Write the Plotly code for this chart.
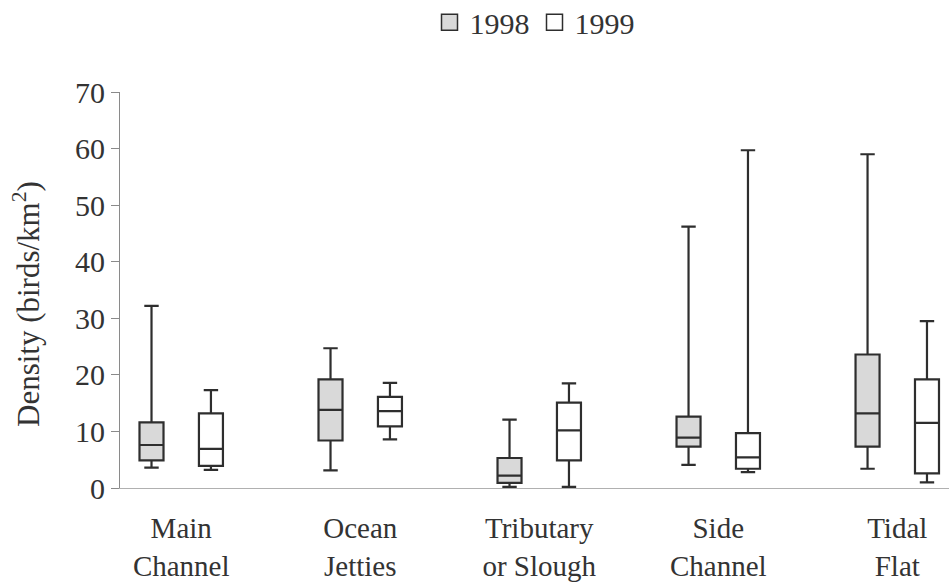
import plotly.graph_objects as go

categories = ["Main<br>Channel", "Ocean<br>Jetties", "Tributary<br>or Slough", "Side<br>Channel", "Tidal<br>Flat"]

# 1998 box statistics (birds/km^2)
lo_1998 = [3.6, 3.1, 0.2, 4.1, 3.4]
q1_1998 = [4.9, 8.4, 0.9, 7.3, 7.3]
med_1998 = [7.6, 13.8, 2.2, 8.9, 13.2]
q3_1998 = [11.6, 19.2, 5.3, 12.6, 23.6]
hi_1998 = [32.2, 24.7, 12.1, 46.2, 59.0]

# 1999 box statistics (birds/km^2)
lo_1999 = [3.2, 8.6, 0.2, 2.8, 1.0]
q1_1999 = [3.9, 10.9, 4.9, 3.4, 2.6]
med_1999 = [6.9, 13.6, 10.2, 5.4, 11.5]
q3_1999 = [13.2, 16.1, 15.1, 9.7, 19.2]
hi_1999 = [17.3, 18.6, 18.5, 59.7, 29.5]

y_ticks = [0, 10, 20, 30, 40, 50, 60, 70]

SERIF = "Liberation Serif"
LINE = "#2e2e2e"
TXT = "#333333"
FILL98 = "#d9d9d9"

fig = go.Figure()
fig.add_trace(go.Box(
    name="1998", x=categories,
    lowerfence=lo_1998, q1=q1_1998, median=med_1998, q3=q3_1998, upperfence=hi_1998,
    fillcolor=FILL98, line=dict(color=LINE, width=2.2),
    whiskerwidth=0.6, boxpoints=False, showlegend=False,
))
fig.add_trace(go.Box(
    name="1999", x=categories,
    lowerfence=lo_1999, q1=q1_1999, median=med_1999, q3=q3_1999, upperfence=hi_1999,
    fillcolor="#ffffff", line=dict(color=LINE, width=2.2),
    whiskerwidth=0.6, boxpoints=False, showlegend=False,
))
# legend entries (square swatches)
for nm, fc in [("1998", FILL98), ("1999", "#ffffff")]:
    fig.add_trace(go.Scatter(
        x=[None], y=[None], mode="markers", name=nm,
        marker=dict(symbol="square", size=16, color=fc, line=dict(color=LINE, width=1.5)),
    ))

fig.update_layout(
    width=949, height=587,
    margin=dict(l=120, r=0, t=92, b=99, autoexpand=False),
    paper_bgcolor="white", plot_bgcolor="white",
    boxmode="group", boxgap=0.336, boxgroupgap=0.596,
    font=dict(family=SERIF, size=30, color=TXT),
    showlegend=True,
    legend=dict(orientation="h", x=0.5, xanchor="center", y=1.176, yanchor="middle",
                font=dict(family=SERIF, size=30, color=TXT),
                itemwidth=30, itemsizing="trace", tracegroupgap=0, bgcolor="rgba(0,0,0,0)"),
    annotations=[dict(
        text="Density (birds/km<sup>2</sup>)", textangle=-90,
        xref="paper", yref="paper", x=-0.112, y=0.465, xanchor="center", yanchor="middle",
        showarrow=False, font=dict(family=SERIF, size=31, color=TXT),
    )],
)
fig.update_xaxes(
    type="category", range=[-0.342, 4.289], automargin=False,
    showline=True, linecolor="#b0b0b0", linewidth=1.2,
    showgrid=False, zeroline=False, ticks="", ticklabelstandoff=14,
    tickfont=dict(family=SERIF, size=29, color=TXT),
)
fig.update_yaxes(
    range=[0, 70], tickvals=y_ticks, ticktext=[str(v) for v in y_ticks], automargin=False,
    showline=True, linecolor="#8a8a8a", linewidth=1.2,
    ticks="outside", ticklen=8, tickcolor="#8a8a8a", tickwidth=1.2,
    showgrid=False, zeroline=False,
    tickfont=dict(family=SERIF, size=30, color=TXT),
)

fig.write_html("out.html")
